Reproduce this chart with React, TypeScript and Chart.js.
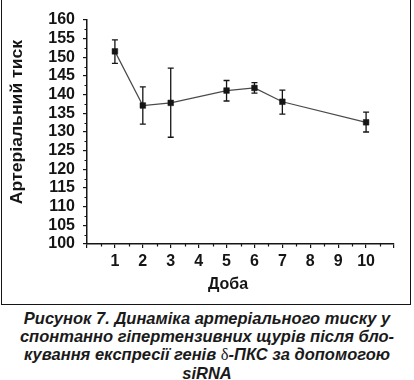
import { useEffect, useRef } from "react";
import { Chart, registerables } from "chart.js";

Chart.register(...registerables);

// ---- data ----
const days = [1, 2, 3, 5, 6, 7, 10];
const meanPressure = [151.6, 137.1, 137.8, 141.1, 141.8, 138.1, 132.6];
const upperError = [154.7, 142.1, 147.1, 143.8, 143.2, 141.2, 135.3];
const lowerError = [148.4, 132.1, 128.6, 138.3, 140.4, 134.8, 130.0];
const xTickLabels = ["1", "2", "3", "4", "5", "6", "7", "8", "9", "10"];
const yAxisTitle = "Артеріальний тиск";
const xAxisTitle = "Доба";
const captionLine1 = "Рисунок 7. Динаміка артеріального тиску у";
const captionLine2 = "спонтанно гіпертензивних щурів після бло-";
const captionLine3a = "кування експресії генів ";
const captionDelta = "δ";
const captionLine3b = "-ПКС за допомогою";
const captionLine4 = "siRNA";

const INK = "#151515";
const TICK_FONT = { family: "'Liberation Sans', Arial, sans-serif", size: 16, weight: "bold" as const };

const extrasPlugin = {
  id: "extras",
  beforeDatasetsDraw(chart: any) {
    const { ctx } = chart;
    const xs = chart.scales.x;
    const ys = chart.scales.y;
    ctx.save();
    ctx.strokeStyle = INK;
    ctx.lineWidth = 1.3;
    days.forEach((d, i) => {
      const px = xs.getPixelForValue(d);
      const top = ys.getPixelForValue(upperError[i]);
      const bot = ys.getPixelForValue(lowerError[i]);
      ctx.beginPath();
      ctx.moveTo(px, top);
      ctx.lineTo(px, bot);
      ctx.moveTo(px - 3, top);
      ctx.lineTo(px + 3, top);
      ctx.moveTo(px - 3, bot);
      ctx.lineTo(px + 3, bot);
      ctx.stroke();
    });
    ctx.restore();
  },
  afterDraw(chart: any) {
    const { ctx, chartArea } = chart;
    const xs = chart.scales.x;
    const ys = chart.scales.y;
    ctx.save();
    ctx.strokeStyle = INK;
    ctx.lineWidth = 1.2;
    // minor ticks
    ctx.beginPath();
    for (let v = xs.min + 0.5; v < xs.max; v += 1) {
      const px = Math.round(xs.getPixelForValue(v)) + 0.5;
      ctx.moveTo(px, chartArea.bottom);
      ctx.lineTo(px, chartArea.bottom + 2.5);
    }
    for (let v = ys.min + 2.5; v < ys.max; v += 5) {
      const py = Math.round(ys.getPixelForValue(v)) + 0.5;
      ctx.moveTo(chartArea.left, py);
      ctx.lineTo(chartArea.left - 2.5, py);
    }
    ctx.stroke();
    // axis titles
    ctx.fillStyle = INK;
    ctx.font = "bold 16px 'Liberation Sans', Arial, sans-serif";
    ctx.textAlign = "center";
    ctx.textBaseline = "middle";
    ctx.save();
    ctx.translate(18, chartArea.top + 102);
    ctx.rotate(-Math.PI / 2);
    ctx.scale(1.1, 1);
    ctx.fillText(yAxisTitle, 0, 0);
    ctx.restore();
    ctx.font = "bold 16px 'Liberation Sans', Arial, sans-serif";
    ctx.fillText(xAxisTitle, chartArea.left + 141, chartArea.bottom + 41);
    ctx.restore();
  },
};

function PressureChart() {
  const ref = useRef<HTMLCanvasElement | null>(null);
  useEffect(() => {
    if (!ref.current) return;
    const chart = new Chart(ref.current, {
      type: "line",
      data: {
        datasets: [
          {
            data: days.map((d, i) => ({ x: d, y: meanPressure[i] })),
            borderColor: "#4a4a4a",
            borderWidth: 1.2,
            pointStyle: "rect",
            pointRadius: 4,
            pointBackgroundColor: INK,
            pointBorderColor: INK,
            pointBorderWidth: 0.5,
            fill: false,
            tension: 0,
          },
        ],
      },
      options: {
        animation: false,
        responsive: false,
        events: [],
        layout: { padding: { left: 0, right: 20, top: 20, bottom: 0 } },
        plugins: { legend: { display: false }, tooltip: { enabled: false }, title: { display: false } },
        scales: {
          x: {
            type: "linear",
            min: 0,
            max: 11,
            ticks: {
              stepSize: 1,
              autoSkip: false,
              maxRotation: 0,
              color: INK,
              font: TICK_FONT,
              padding: 4,
              callback: (v: any) => {
                const n = Number(v);
                return n >= 1 && n <= xTickLabels.length ? xTickLabels[n - 1] : "";
              },
            },
            grid: { drawOnChartArea: false, tickLength: 4, color: INK, lineWidth: 1.2 },
            border: { color: INK, width: 1.5 },
            afterFit: (s: any) => {
              s.height = 61;
            },
          },
          y: {
            min: 100,
            max: 160,
            ticks: { stepSize: 5, color: INK, font: TICK_FONT, padding: 8, autoSkip: false },
            grid: { drawOnChartArea: false, tickLength: 4, color: INK, lineWidth: 1.2 },
            border: { color: INK, width: 1.5 },
            afterFit: (s: any) => {
              s.width = 87;
            },
          },
        },
      },
      plugins: [extrasPlugin],
    });
    return () => chart.destroy();
  }, []);
  return (
    <canvas
      ref={ref}
      width={414}
      height={305}
      style={{ position: "absolute", left: 0, top: 0, width: 414, height: 305 }}
    />
  );
}

export default function App() {
  return (
    <div
      style={{
        position: "absolute",
        left: 0,
        top: 0,
        width: 414,
        height: 380,
        overflow: "hidden",
        background: "#fff",
      }}
    >
      <div
        style={{
          position: "absolute",
          left: 1,
          top: -2,
          width: 410,
          height: 307,
          border: `1.5px solid ${INK}`,
          boxSizing: "border-box",
        }}
      />
      <PressureChart />
      <div
        style={{
          position: "absolute",
          left: 0,
          top: 309,
          width: 414,
          textAlign: "center",
          fontFamily: "'Liberation Sans', Arial, sans-serif",
          fontWeight: "bold",
          fontStyle: "italic",
          fontSize: 16.5,
          lineHeight: "18px",
          color: "#1a1a1a",
          whiteSpace: "nowrap",
        }}
      >
        <div>{captionLine1}</div>
        <div>{captionLine2}</div>
        <div>
          {captionLine3a}
          <span style={{ fontStyle: "normal", fontWeight: "normal", fontFamily: "'Liberation Serif', serif" }}>
            {captionDelta}
          </span>
          {captionLine3b}
        </div>
        <div>{captionLine4}</div>
      </div>
    </div>
  );
}
